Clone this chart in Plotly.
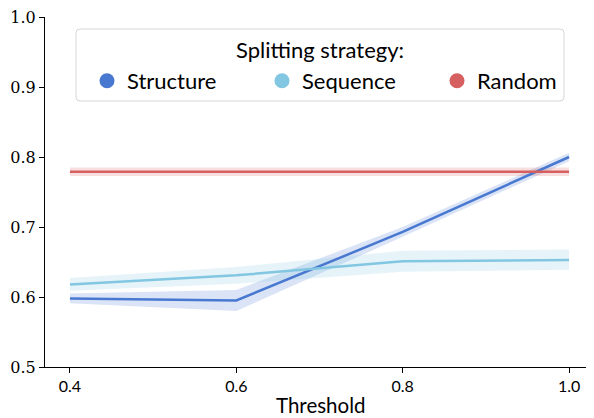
import plotly.graph_objects as go

thresholds = [0.4, 0.6, 0.8, 1.0]
structure_mean = [0.598, 0.595, 0.693, 0.800]
structure_lo = [0.591, 0.580, 0.686, 0.794]
structure_hi = [0.605, 0.610, 0.700, 0.806]
sequence_mean = [0.618, 0.631, 0.651, 0.653]
sequence_lo = [0.609, 0.619, 0.636, 0.639]
sequence_hi = [0.627, 0.643, 0.666, 0.668]
random_mean = [0.779, 0.779, 0.779, 0.779]
random_lo = [0.773, 0.773, 0.773, 0.773]
random_hi = [0.785, 0.785, 0.785, 0.785]

series = [
    ("Structure", structure_mean, structure_lo, structure_hi, "#4878d0", "rgba(72,120,208,0.2)"),
    ("Sequence", sequence_mean, sequence_lo, sequence_hi, "#82c6e2", "rgba(130,198,226,0.2)"),
    ("Random", random_mean, random_lo, random_hi, "#d65f5f", "rgba(214,95,95,0.2)"),
]

fig = go.Figure()
for name, mean, lo, hi, color, fill in series:
    fig.add_trace(go.Scatter(
        x=thresholds + thresholds[::-1], y=hi + lo[::-1],
        fill="toself", fillcolor=fill, line=dict(width=0),
        mode="lines", hoverinfo="skip", showlegend=False))
for name, mean, lo, hi, color, fill in series:
    fig.add_trace(go.Scatter(
        x=thresholds, y=mean, mode="lines",
        line=dict(color=color, width=2.5), showlegend=False, name=name))
for name, mean, lo, hi, color, fill in series:
    fig.add_trace(go.Scatter(
        x=[None], y=[None], mode="markers", name=name,
        marker=dict(color=color, size=15)))

serif = "DejaVu Serif"
sans = "Lato"

# plot area in page pixels: x 45..594, y 17..367 (page body has an 8px margin)
W, H = 549.0, 350.0
def px(x):
    return (x - 45) / W
def py(y):
    return (367 - y) / H

# rounded legend frame
x0, x1, y0, y1, r = 76, 564, 29, 101, 4
path = (f"M {px(x0+r)},{py(y0)} L {px(x1-r)},{py(y0)} Q {px(x1)},{py(y0)} {px(x1)},{py(y0+r)} "
        f"L {px(x1)},{py(y1-r)} Q {px(x1)},{py(y1)} {px(x1-r)},{py(y1)} "
        f"L {px(x0+r)},{py(y1)} Q {px(x0)},{py(y1)} {px(x0)},{py(y1-r)} "
        f"L {px(x0)},{py(y0+r)} Q {px(x0)},{py(y0)} {px(x0+r)},{py(y0)} Z")
fig.add_shape(type="path", path=path, xref="paper", yref="paper",
              line=dict(color="#d6d6d6", width=1), fillcolor="rgba(255,255,255,0.8)", layer="above")

fig.add_annotation(text="Splitting strategy:", xref="paper", yref="paper",
                   x=px(320), y=py(49), xanchor="center", yanchor="middle",
                   showarrow=False, font=dict(family=sans, size=22, color="black"))
fig.add_annotation(text="Threshold", xref="paper", yref="paper",
                   x=px(321), y=py(405), xanchor="center", yanchor="middle",
                   showarrow=False, font=dict(family=sans, size=20.5, color="black"))

fig.update_layout(
    width=586, height=410,
    margin=dict(l=37, r=0, t=9, b=51, autoexpand=False),
    plot_bgcolor="white", paper_bgcolor="white",
    font=dict(family=sans, color="black"),
    xaxis=dict(
        range=[0.37, 1.03], tickvals=thresholds,
        ticktext=["0.4", "0.6", "0.8", "1.0"],
        showgrid=False, zeroline=False, showline=True, linecolor="black", linewidth=1,
        ticks="outside", ticklen=5, tickcolor="black", automargin=False,
        ticklabeloverflow="allow",
        tickfont=dict(family=sans, size=16),
    ),
    yaxis=dict(
        range=[0.5, 1.0], tickvals=[0.5, 0.6, 0.7, 0.8, 0.9, 1.0],
        ticktext=["0.5", "0.6", "0.7", "0.8", "0.9", "1.0"],
        showgrid=False, zeroline=False, showline=True, linecolor="black", linewidth=1,
        ticks="outside", ticklen=5, tickcolor="black", automargin=False,
        ticklabeloverflow="allow",
        tickfont=dict(family=serif, size=16),
    ),
    legend=dict(
        orientation="h", x=px(87), xanchor="left", y=py(81), yanchor="middle",
        font=dict(family=sans, size=22),
        borderwidth=0, bgcolor="rgba(0,0,0,0)",
        entrywidth=130, entrywidthmode="pixels", itemsizing="trace",
    ),
)

fig.write_html("out.html")
